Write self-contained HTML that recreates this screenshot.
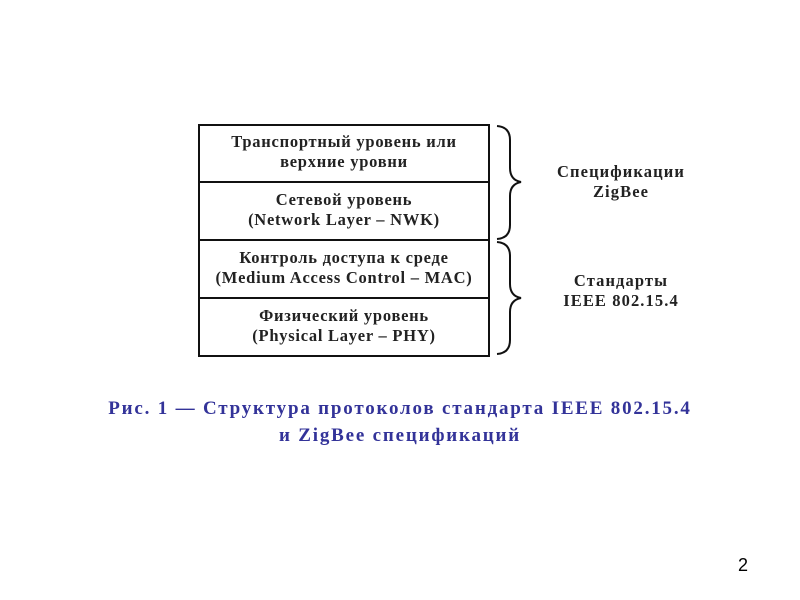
<!DOCTYPE html>
<html><head><meta charset="utf-8"><style>
body{margin:0;background:#fff;width:800px;height:600px;overflow:hidden;position:relative;font-family:"Liberation Serif",serif}
.t{position:absolute;text-align:center;font-size:16.5px;font-weight:bold;letter-spacing:0.75px;line-height:20px;color:#222;font-family:"Liberation Serif","Noto Serif CJK SC",serif;white-space:nowrap}
.r{letter-spacing:1.1px}
.cap{position:absolute;left:0;width:800px;text-align:center;font-family:"Liberation Serif",serif;font-weight:bold;font-size:19px;letter-spacing:1.8px;color:#333399;line-height:27px}
</style></head><body>
<svg width="800" height="600" style="position:absolute;left:0;top:0">
<g stroke="#111" stroke-width="2" fill="none">
<rect x="199" y="125" width="290" height="231"/>
<line x1="199" y1="182" x2="489" y2="182"/>
<line x1="199" y1="240" x2="489" y2="240"/>
<line x1="199" y1="298" x2="489" y2="298"/>
<path d="M497 126 Q510 127 510 140 L510 168 Q510 180 521 182 Q510 184 510 196 L510 225 Q510 238 497 239"/>
<path d="M497 242 Q510 243 510 256 L510 284 Q510 296 521 298 Q510 300 510 312 L510 340 Q510 353 497 354"/>
</g></svg>
<div class="t" style="left:199px;width:290px;top:132px">Транспортный уровень или<br>верхние уровни</div>
<div class="t" style="left:199px;width:290px;top:190px">Сетевой уровень<br>(Network Layer – NWK)</div>
<div class="t" style="left:199px;width:290px;top:248px">Контроль доступа к среде<br>(Medium Access Control – MAC)</div>
<div class="t" style="left:199px;width:290px;top:306px">Физический уровень<br>(Physical Layer – PHY)</div>
<div class="t r" style="left:551px;width:140px;top:162px">Спецификации<br>ZigBee</div>
<div class="t r" style="left:551px;width:140px;top:271px">Стандарты<br>IEEE 802.15.4</div>
<div class="cap" style="top:395px">Рис. 1 — Структура протоколов стандарта IEEE 802.15.4<br>и ZigBee спецификаций</div>
<div style="position:absolute;left:738px;top:555px;font-family:'Liberation Sans',sans-serif;font-size:18px;color:#000">2</div>
</body></html>
